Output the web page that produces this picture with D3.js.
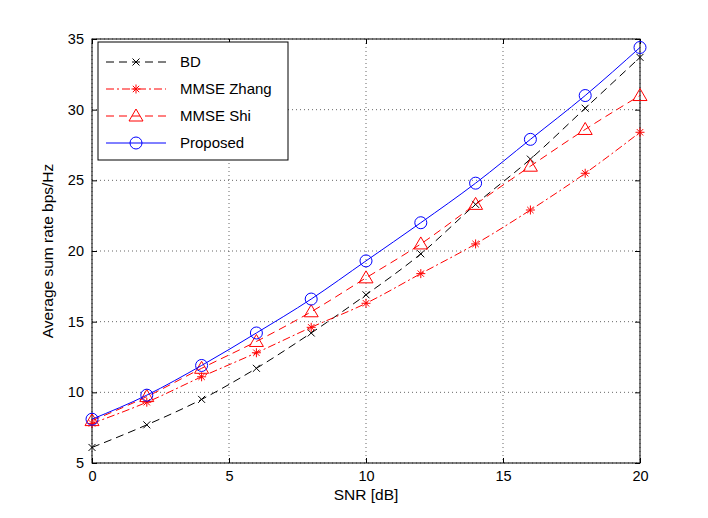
<!DOCTYPE html><html><head><script src="https://cdn.jsdelivr.net/npm/d3@7"></script>
<style>body{margin:0;background:#fff}text{font-family:"Liberation Sans",Arial,sans-serif}</style></head><body>
<svg id="c" width="708" height="518"></svg>
<script>
const snr=[0,2,4,6,8,10,12,14,16,18,20];
const bd=[6.1,7.7,9.5,11.7,14.2,16.9,19.8,23.3,26.5,30.1,33.7];
const zhang=[7.8,9.3,11.1,12.8,14.6,16.3,18.4,20.5,22.9,25.5,28.4];
const shi=[8.0,9.7,11.7,13.6,15.7,18.1,20.5,23.3,26.0,28.6,31.0];
const proposed=[8.1,9.8,11.9,14.2,16.6,19.3,22.0,24.8,27.9,31.0,34.4];
const xTicks=[0,5,10,15,20], yTicks=[5,10,15,20,25,30,35];
const names=["BD","MMSE Zhang","MMSE Shi","Proposed"];
const svg=d3.select("#c");
const L=92,R=640,T=39,B=463;
const x=d3.scaleLinear().domain([0,20]).range([L,R]);
const y=d3.scaleLinear().domain([5,35]).range([B,T]);
const g=svg.append("g");
xTicks.forEach(t=>{g.append("line").attr("x1",x(t)).attr("x2",x(t)).attr("y1",T).attr("y2",B).attr("stroke","#000").attr("stroke-width",0.6).attr("stroke-dasharray","1,3");});
yTicks.forEach(t=>{g.append("line").attr("y1",y(t)).attr("y2",y(t)).attr("x1",L).attr("x2",R).attr("stroke","#000").attr("stroke-width",0.6).attr("stroke-dasharray","1,3");});
g.append("rect").attr("x",L).attr("y",T).attr("width",R-L).attr("height",B-T).attr("fill","none").attr("stroke","#000");
svg.append("g").attr("transform",`translate(0,${B})`).call(d3.axisBottom(x).tickValues(xTicks).tickSizeInner(-5).tickSizeOuter(0).tickPadding(8));
svg.append("g").attr("transform",`translate(${L},0)`).call(d3.axisLeft(y).tickValues(yTicks).tickSizeInner(-5).tickSizeOuter(0).tickPadding(8));
svg.append("g").attr("transform",`translate(${R},0)`).call(d3.axisRight(y).tickValues(yTicks).tickSizeInner(-5).tickSizeOuter(0).tickFormat(""));
svg.append("g").attr("transform",`translate(0,${T})`).call(d3.axisTop(x).tickValues(xTicks).tickSizeInner(-5).tickSizeOuter(0).tickFormat(""));
svg.selectAll(".domain").remove();
svg.selectAll(".tick text").attr("font-size",14.5).attr("fill","#000");
svg.append("text").attr("x",(L+R)/2).attr("y",500).attr("text-anchor","middle").attr("font-size",15.5).text("SNR [dB]");
svg.append("text").attr("transform",`translate(53,${(T+B)/2}) rotate(-90)`).attr("text-anchor","middle").attr("font-size",15.5).text("Average sum rate bps/Hz");
const series=[
 {n:names[0],v:bd,c:"#000",d:"8,5",m:"x"},
 {n:names[1],v:zhang,c:"#ff0000",d:"8,3,2,3",m:"star"},
 {n:names[2],v:shi,c:"#ff0000",d:"8,5",m:"tri"},
 {n:names[3],v:proposed,c:"#0000ff",d:null,m:"circ"}];
function marker(sel,m,c,cx,cy){
 if(m=="x"){sel.append("path").attr("d",`M${cx-3.5},${cy-3.5}L${cx+3.5},${cy+3.5}M${cx-3.5},${cy+3.5}L${cx+3.5},${cy-3.5}`).attr("stroke",c).attr("fill","none");}
 else if(m=="star"){let d="";for(let i=0;i<4;i++){const a=i*Math.PI/4;d+=`M${cx-4.5*Math.cos(a)},${cy-4.5*Math.sin(a)}L${cx+4.5*Math.cos(a)},${cy+4.5*Math.sin(a)}`;}sel.append("path").attr("d",d).attr("stroke",c).attr("fill","none");}
 else if(m=="tri"){sel.append("path").attr("d",`M${cx},${cy-7}L${cx+7},${cy+5}L${cx-7},${cy+5}Z`).attr("stroke",c).attr("fill","none");}
 else {sel.append("circle").attr("cx",cx).attr("cy",cy).attr("r",6).attr("stroke",c).attr("fill","none");}
}
const line=d3.line().x((d,i)=>x(snr[i])).y(d=>y(d)).curve(d3.curveMonotoneX);
series.forEach(s=>{
 svg.append("path").attr("d",line(s.v)).attr("fill","none").attr("stroke",s.c).attr("stroke-width",1).attr("stroke-dasharray",s.d);
 s.v.forEach((v,i)=>marker(svg,s.m,s.c,x(snr[i]),y(v)));
});
const lg=svg.append("g");
lg.append("rect").attr("x",98).attr("y",42).attr("width",190).attr("height",118).attr("fill","#fff").attr("stroke","#000");
series.forEach((s,i)=>{
 const yy=62+i*27;
 lg.append("line").attr("x1",106).attr("x2",166).attr("y1",yy).attr("y2",yy).attr("stroke",s.c).attr("stroke-dasharray",s.d);
 marker(lg,s.m,s.c,136,yy);
 lg.append("text").attr("x",180).attr("y",yy+5).attr("font-size",15).text(s.n);
});
</script></body></html>
